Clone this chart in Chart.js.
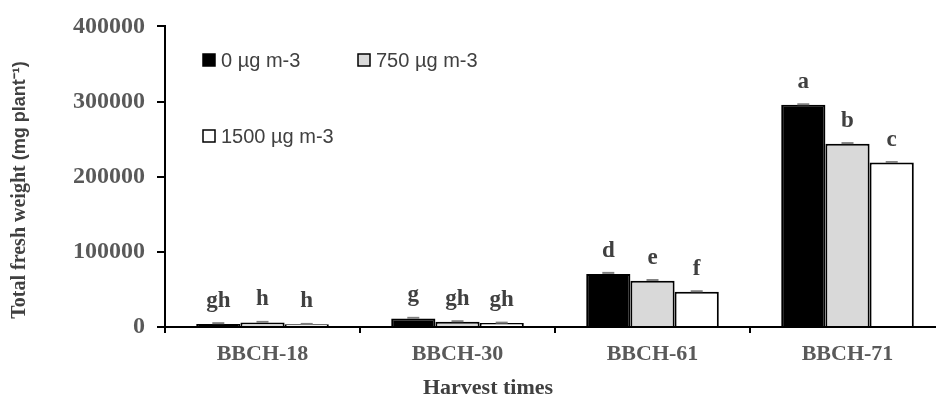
<!DOCTYPE html>
<html>
<head>
<meta charset="utf-8">
<script src="https://cdn.jsdelivr.net/npm/chart.js@4.4.1/dist/chart.umd.min.js"></script>
<style>
  html, body { margin: 0; padding: 0; background: #fff; overflow: hidden; }
  #wrap { width: 946px; height: 394px; position: relative; }
</style>
</head>
<body>
<div id="wrap"><canvas id="myChart"></canvas></div>
<script>
// harvest stages
const stages = ['BBCH-18', 'BBCH-30', 'BBCH-61', 'BBCH-71'];
const seriesNames = ['0 \u00b5g m-3', '750 \u00b5g m-3', '1500 \u00b5g m-3'];

// total fresh weight, mg per plant
const ctrl0 = [3900, 11400, 70500, 295700];
const ozone750 = [6100, 7000, 61700, 244000];
const ozone1500 = [3500, 5200, 46900, 218800];

// small error bars
const err0 = [1200, 800, 1500, 700];
const err750 = [700, 700, 800, 700];
const err1500 = [600, 600, 700, 700];

// significance letters
const letters0 = ['gh', 'g', 'd', 'a'];
const letters750 = ['h', 'gh', 'e', 'b'];
const letters1500 = ['h', 'gh', 'f', 'c'];

const yTicks = [0, 100000, 200000, 300000, 400000];

const serif = '"Liberation Serif", "Times New Roman", serif';
const sans = '"Liberation Sans", Arial, sans-serif';

// letters + error bars on top of the bars
const annotate = {
    id: 'annotate',
    afterDatasetsDraw(chart) {
        const ctx = chart.ctx;
        const yScale = chart.scales.y;
        const errs = [err0, err750, err1500];
        const lets = [letters0, letters750, letters1500];
        chart.data.datasets.forEach((ds, i) => {
            const meta = chart.getDatasetMeta(i);
            meta.data.forEach((bar, j) => {
                const v = ds.data[j];
                const yTop = yScale.getPixelForValue(v + errs[i][j]);
                ctx.save();
                ctx.strokeStyle = '#7f7f7f';
                ctx.lineWidth = 2;
                ctx.beginPath();
                ctx.moveTo(bar.x - 6, yTop);
                ctx.lineTo(bar.x + 6, yTop);
                ctx.stroke();
                ctx.fillStyle = '#404040';
                ctx.font = 'bold 23px ' + serif;
                ctx.textAlign = 'center';
                ctx.textBaseline = 'alphabetic';
                ctx.fillText(lets[i][j], bar.x, yScale.getPixelForValue(v) - 17);
                ctx.restore();
            });
        });
    }
};

// legend laid out like the original (two rows)
const legendBoxes = {
    id: 'legendBoxes',
    afterDraw(chart) {
        const ctx = chart.ctx;
        const spots = [[203, 60], [358, 60], [203, 136]];
        chart.data.datasets.forEach((ds, i) => {
            const [x, y] = spots[i];
            ctx.save();
            ctx.fillStyle = ds.backgroundColor;
            ctx.fillRect(x, y - 6, 12, 12);
            ctx.strokeStyle = '#000';
            ctx.lineWidth = 1.5;
            ctx.strokeRect(x, y - 6, 12, 12);
            ctx.fillStyle = '#404040';
            ctx.font = '20px ' + sans;
            ctx.textBaseline = 'middle';
            ctx.fillText(ds.label, x + 18, y + 1);
            ctx.restore();
        });
    }
};

// axis titles
const titles = {
    id: 'titles',
    afterDraw(chart) {
        const ctx = chart.ctx;
        ctx.save();
        ctx.fillStyle = '#404040';
        ctx.font = 'bold 22px ' + serif;
        ctx.textAlign = 'center';
        ctx.textBaseline = 'middle';
        ctx.fillText('Harvest times', 488, 388);

        // y title, mixed fonts as in the original
        const part1 = 'Total fresh weight ';
        const part2 = '(mg plant\u207b\u00b9)';
        const f1 = 'bold 20px ' + serif;
        const f2 = 'bold 18px ' + sans;
        ctx.font = f1;
        const w1 = ctx.measureText(part1).width;
        ctx.font = f2;
        const w2 = ctx.measureText(part2).width;
        ctx.translate(20, 190);
        ctx.rotate(-Math.PI / 2);
        ctx.textAlign = 'left';
        let x0 = -(w1 + w2) / 2;
        ctx.font = f1;
        ctx.fillText(part1, x0, 0);
        ctx.font = f2;
        ctx.fillText(part2, x0 + w1, 0);
        ctx.restore();
    }
};

const ctx = document.getElementById('myChart');

const chart = new Chart(ctx, {
    type: 'bar',
    data: {
        labels: stages,
        datasets: [
            { label: seriesNames[0], data: ctrl0, backgroundColor: '#000000', borderColor: '#000000', borderWidth: 2 },
            { label: seriesNames[1], data: ozone750, backgroundColor: '#d9d9d9', borderColor: '#000000', borderWidth: 2 },
            { label: seriesNames[2], data: ozone1500, backgroundColor: '#ffffff', borderColor: '#000000', borderWidth: 2 }
        ]
    },
    options: {
        responsive: true,
        maintainAspectRatio: false,
        animation: false,
        layout: { padding: { top: 22, right: 1, left: 0, bottom: 0 } },
        categoryPercentage: 0.68,
        barPercentage: 1.0,
        plugins: {
            legend: { display: false },
            tooltip: { enabled: false }
        },
        scales: {
            x: {
                grid: { display: true, drawOnChartArea: false, offset: true, color: '#000', lineWidth: 2, tickLength: 6 },
                border: { display: true, color: '#000', width: 2 },
                ticks: {
                    color: '#595959',
                    font: { family: serif, size: 22, weight: 'bold' },
                    padding: 8,
                    maxRotation: 0
                },
                afterFit(s) { s.height = 67; }
            },
            y: {
                min: 0,
                max: 400000,
                afterBuildTicks(s) { s.ticks = yTicks.map(v => ({ value: v })); },
                grid: { display: true, drawOnChartArea: false, color: '#000', lineWidth: 2, tickLength: 8 },
                border: { display: true, color: '#000', width: 2 },
                ticks: {
                    color: '#595959',
                    font: { family: serif, size: 24, weight: 'bold' },
                    padding: 12,
                    callback: (v) => String(v)
                },
                afterFit(s) { s.width = 165; }
            }
        }
    },
    plugins: [annotate, legendBoxes, titles]
});
</script>
</body>
</html>
